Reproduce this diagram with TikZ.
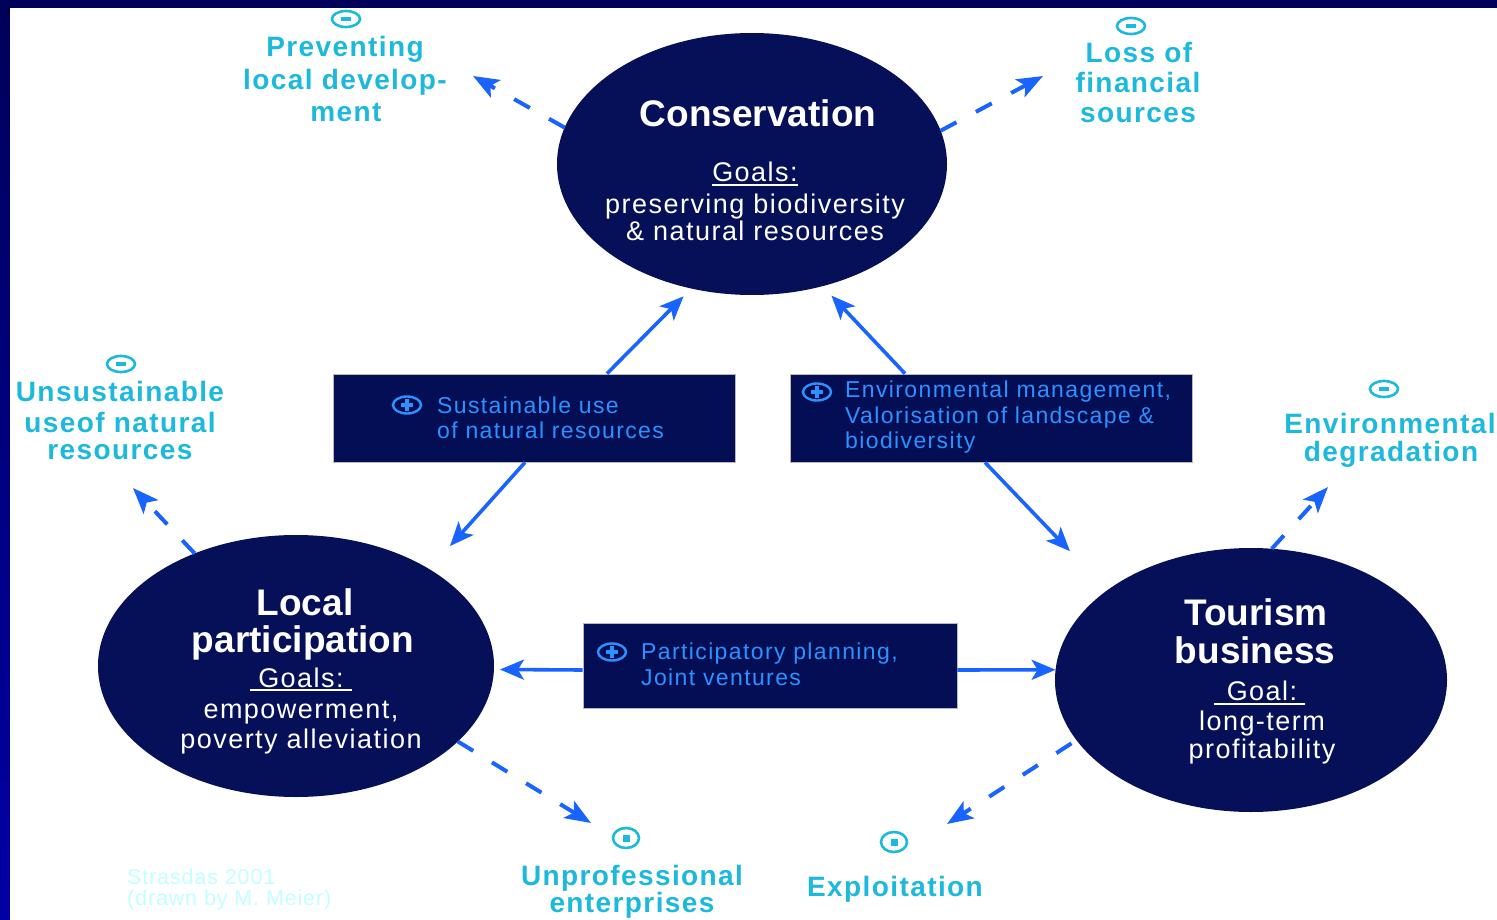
\documentclass[tikz,border=0pt]{standalone}
\usepackage{fontspec}
\setmainfont{Liberation Sans}
\newfontfamily\bodyls[LetterSpace=5.5]{Liberation Sans}
\newfontfamily\labells[LetterSpace=5]{Liberation Sans}
\newfontfamily\boxls[LetterSpace=6]{Liberation Sans}
\newfontfamily\creditls[LetterSpace=4]{Liberation Sans}
\usetikzlibrary{arrows.meta,shapes.geometric,calc}
\definecolor{framenavy}{RGB}{0,0,90}
\definecolor{framebottom}{RGB}{0,0,165}
\definecolor{ellnavy}{RGB}{6,16,88}
\definecolor{boxnavy}{RGB}{3,14,85}
\definecolor{arrowblue}{RGB}{25,100,255}
\definecolor{labelcyan}{RGB}{28,185,220}
\definecolor{boxtext}{RGB}{45,145,255}
\definecolor{credit}{RGB}{195,255,255}
\begin{document}
\begin{tikzpicture}[x=1pt,y=-1pt,
  ellnode/.style={ellipse, fill=ellnavy, inner sep=0pt, outer sep=0pt},
  boxnode/.style={rectangle, fill=boxnavy, draw=gray!55, line width=0.8pt, inner sep=0pt},
  title/.style={anchor=base, inner sep=0pt, text=white, font=\fontsize{37}{37}\selectfont\bfseries},
  body/.style={anchor=base, inner sep=0pt, text=white, font=\bodyls\fontsize{27}{27}\selectfont},
  lbl/.style={anchor=base, inner sep=0pt, text=labelcyan, font=\labells\fontsize{28}{28}\selectfont\bfseries},
  boxtxt/.style={anchor=base west, inner sep=0pt, text=boxtext, font=\boxls\fontsize{23}{23}\selectfont},
  credittxt/.style={anchor=base west, inner sep=0pt, text=credit, font=\creditls\fontsize{21.5}{21.5}\selectfont},
  ul/.style={draw=white, line width=2pt},
  minusicon/.style={ellipse, draw=labelcyan, line width=2.6pt, minimum width=28pt, minimum height=16pt, inner sep=0pt,
    path picture={\fill[labelcyan] ($(path picture bounding box.center)+(-5,-2.3)$) rectangle ($(path picture bounding box.center)+(5,2.3)$);}},
  doticon/.style={ellipse, draw=labelcyan, line width=2.6pt, minimum width=26pt, minimum height=20pt, inner sep=0pt,
    path picture={\fill[labelcyan] ($(path picture bounding box.center)+(-3.5,-3.5)$) rectangle ($(path picture bounding box.center)+(3.5,3.5)$);}},
  plusicon/.style={ellipse, draw=boxtext, line width=2.4pt, minimum width=28pt, minimum height=17pt, inner sep=0pt,
    path picture={\fill[boxtext] ($(path picture bounding box.center)+(-6,-1.6)$) rectangle ($(path picture bounding box.center)+(6,1.6)$);
                  \fill[boxtext] ($(path picture bounding box.center)+(-1.6,-6)$) rectangle ($(path picture bounding box.center)+(1.6,6)$);}},
  solidarrow/.style={draw=arrowblue, line width=3.6pt, -{Stealth[length=24pt,width=20pt,inset=6pt]}},
  dasharrow/.style={draw=arrowblue, line width=4pt, dash pattern=on 18pt off 22pt, -{Stealth[length=26pt,width=20pt,inset=6pt]}}
]
% frame and background
\fill[framenavy] (0,0) rectangle (1497,920);
\shade[top color=framenavy, bottom color=framebottom] (0,0) rectangle (10,920);
\fill[white] (10,8) rectangle (1497,920);
\useasboundingbox (0,0) rectangle (1497,920);

% ellipses
\node[ellnode, minimum width=390pt, minimum height=262pt] (cons) at (752,164) {};
\node[ellnode, minimum width=396pt, minimum height=262pt] (loc) at (296,666) {};
\node[ellnode, minimum width=392pt, minimum height=264pt] (tour) at (1251,680) {};

% ellipse texts
\node[title] (ct) at (758,127) {Conservation};
\node[body] (cg) at (755,182) {Goals:};
\draw[ul] ($(cg.base west)+(0,3)$) -- ($(cg.base east)+(0,3)$);
\node[body] (c1) at (755,214) {preserving biodiversity};
\node[body] (c2) at (755,241) {\& natural resources};

\node[title] (lt1) at (305,615) {Local};
\node[title] (lt2) at (303,652) {participation};
\node[body] (lg) at (301,687) {Goals:};
\draw[ul] ($(lg.base west)+(-8,3)$) -- ($(lg.base east)+(8,3)$);
\node[body] (l1) at (301,718) {empowerment,};
\node[body] (l2) at (301,748) {poverty alleviation};

\node[title] (tt1) at (1256,625) {Tourism};
\node[title] (tt2) at (1255,663) {business};
\node[body] (tg) at (1262,700) {Goal:};
\draw[ul] ($(tg.base west)+(-13,4)$) -- ($(tg.base east)+(8,4)$);
\node[body] (t1) at (1262,730) {long-term};
\node[body] (t2) at (1262,758) {profitability};

% boxes
\node[boxnode, minimum width=402pt, minimum height=88pt] (sust) at (534,418) {};
\node[boxnode, minimum width=402pt, minimum height=88pt] (env) at (991,418) {};
\node[boxnode, minimum width=374pt, minimum height=85pt] (part) at (770,665.5) {};

\node[plusicon] (sp) at (407,405) {};
\node[boxtxt] (s1) at (437,413) {Sustainable use};
\node[boxtxt] (s2) at (437,438) {of natural resources};

\node[plusicon] (ep) at (817,392) {};
\node[boxtxt] (e1) at (845,397) {Environmental management,};
\node[boxtxt] (e2) at (845,423) {Valorisation of landscape \&};
\node[boxtxt] (e3) at (845,448) {biodiversity};

\node[plusicon] (pp) at (612,652) {};
\node[boxtxt] (p1) at (641,659) {Participatory planning,};
\node[boxtxt] (p2) at (641,685) {Joint ventures};

% cyan labels
\node[minusicon] (m1) at (346,19) {};
\node[lbl] (pv1) at (345,57) {Preventing};
\node[lbl] (pv2) at (345,90) {local develop-};
\node[lbl] (pv3) at (346,122) {ment};

\node[minusicon] (m2) at (1131,26) {};
\node[lbl] (lf1) at (1139,63) {Loss of};
\node[lbl] (lf2) at (1138,93) {financial};
\node[lbl] (lf3) at (1138,123) {sources};

\node[minusicon] (m3) at (121,364) {};
\node[lbl] (un1) at (120,401) {Unsustainable};
\node[lbl] (un2) at (120,432) {useof natural};
\node[lbl] (un3) at (120,459) {resources};

\node[minusicon] (m4) at (1384,389) {};
\node[lbl] (ed1) at (1390,433) {Environmental};
\node[lbl] (ed2) at (1391,461) {degradation};

\node[doticon] (m5) at (626,838) {};
\node[lbl] (up1) at (632,885) {Unprofessional};
\node[lbl] (up2) at (632,912) {enterprises};

\node[doticon] (m6) at (894,842) {};
\node[lbl] (ex) at (895,896) {Exploitation};

\node[credittxt] (cr1) at (127,884) {Strasdas 2001};
\node[credittxt] (cr2) at (127,905) {(drawn by M. Meier)};

% solid arrows
\draw[solidarrow, shorten >=11pt] ($(sust.north)+(73,0)$) -- (cons.-116.7);
\draw[solidarrow, shorten >=31pt] ($(sust.south)+(-9,0)$) -- (loc.36.9);
\draw[solidarrow, shorten >=13pt] ($(env.north)+(-86,0)$) -- (cons.-60.6);
\draw[solidarrow, shorten >=54pt] ($(env.south)+(-6,0)$) -- (tour.148);
\draw[solidarrow, shorten >=6pt] ($(part.west)+(0,4.5)$) -- (loc.-1);
\draw[solidarrow] ($(part.east)+(0,4.5)$) -- (tour.177.5);

% dashed arrows
\coordinate (d1) at (473,76);
\coordinate (d2) at (1043,76);
\coordinate (d3) at (133,488);
\coordinate (d4) at (591,823);
\coordinate (d5) at (1328,487);
\coordinate (d6) at (947,824);
\draw[dasharrow] (cons.169.7) -- (d1);
\draw[dasharrow] (cons.10.5) -- (d2);
\draw[dasharrow] (loc.132) -- (d3);
\draw[dasharrow] (loc.-25.7) -- (d4);
\draw[dasharrow] (tour.81.8) -- (d5);
\draw[dasharrow, shorten <=6pt] (tour.-161.2) -- (d6);
\end{tikzpicture}
\end{document}
